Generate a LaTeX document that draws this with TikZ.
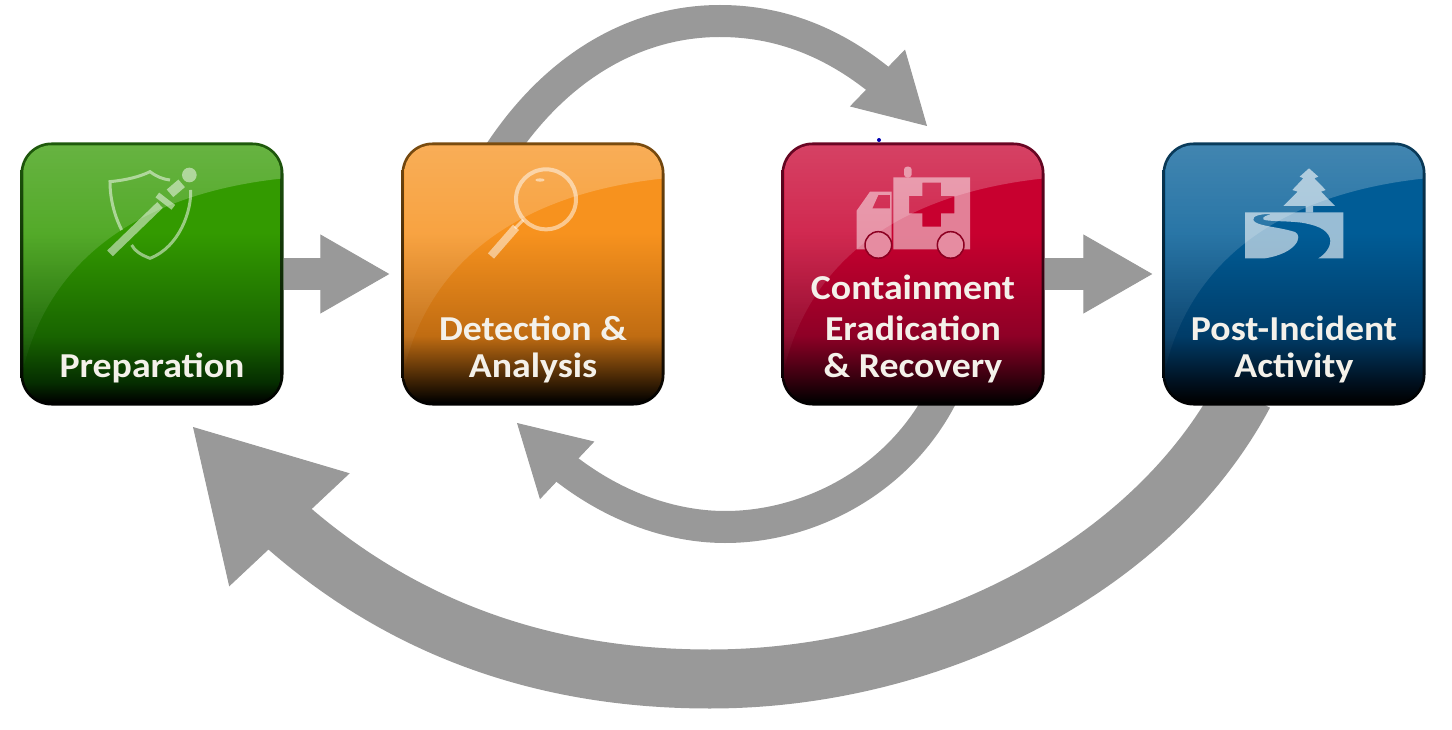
\documentclass[tikz,border=0pt]{standalone}
\usepackage{fontspec}
\setmainfont{Carlito}[FakeStretch=1.08]
\usepackage{xcolor}
\usetikzlibrary{arrows.meta,bending,backgrounds,fadings}
\definecolor{flowgray}{HTML}{999999}
\definecolor{labelwhite}{HTML}{F4F1EA}
\newcommand{\boxshade}[4]{%
  \pgfdeclareverticalshading{#1}{100bp}{color(0bp)=(black); color(25bp)=(black);
    color(29bp)=(#4); color(38bp)=(#3); color(58bp)=(#2); color(100bp)=(#2)}}
\definecolor{greenA}{HTML}{339A00}\definecolor{greenB}{HTML}{186400}\definecolor{greenC}{HTML}{052E00}\definecolor{greenE}{HTML}{1F5A0C}
\definecolor{orangeA}{HTML}{F7921E}\definecolor{orangeB}{HTML}{C06C12}\definecolor{orangeC}{HTML}{3A2004}\definecolor{orangeE}{HTML}{7A4C10}
\definecolor{redA}{HTML}{C8002F}\definecolor{redB}{HTML}{8E0026}\definecolor{redC}{HTML}{2E000C}\definecolor{redE}{HTML}{6A0624}
\definecolor{blueA}{HTML}{005C96}\definecolor{blueB}{HTML}{003C68}\definecolor{blueC}{HTML}{00101F}\definecolor{blueE}{HTML}{0A3C5C}
\boxshade{greenfill}{greenA}{greenB}{greenC}
\boxshade{orangefill}{orangeA}{orangeB}{orangeC}
\boxshade{redfill}{redA}{redB}{redC}
\boxshade{bluefill}{blueA}{blueB}{blueC}
\tikzset{
  stagebox/.style={minimum size=263pt,inner sep=0pt,rounded corners=31pt,bottom color=black},
  stagelabel/.style={text=labelwhite,font=\fontsize{35}{38.5}\selectfont\bfseries,anchor=base},
  flowline/.style={draw=flowgray,line width=32pt,-{Triangle[length=69pt,width=79pt,line width=1pt,flex]}},
  flowbig/.style={draw=flowgray,line width=59pt,-{Triangle[length=141pt,width=165pt,line width=1pt,flex]}},
  iconfill/.style={fill=white,fill opacity=.5},
  iconline/.style={draw=white,draw opacity=.5},
}
\begin{document}
\begin{tikzpicture}[x=1pt,y=-1pt]
\useasboundingbox (0,0) rectangle (1452,730);

% Stage boxes
\node[stagebox,top color=greenE] (prep) at (152,274) {};
\node[stagebox,top color=orangeE] (detect) at (533,274) {};
\node[stagebox,top color=redE] (contain) at (913,274) {};
\node[stagebox,top color=blueE] (postinc) at (1294,274) {};

% Tips of the curved arrows
\coordinate (toptip) at (927,126);
\coordinate (lowtip) at (517,423);
\coordinate (bigtip) at (193,427);

% Arrows, behind the boxes
\begin{scope}[on background layer]
\draw[flowline] (prep.east) -- ([xshift=-12pt]detect.west);
\draw[flowline] (contain.east) -- ([xshift=-10pt]postinc.west);
\draw[flowline] ([xshift=-33pt,yshift=-10pt]detect.north) .. controls (560,62) and (640,21) .. (720,21)
  .. controls (790,21) and (860,50) .. (toptip);
\draw[flowline] ([xshift=30pt,yshift=12pt]contain.south) .. controls (900,480) and (810,527) .. (725,527)
  .. controls (670,527) and (590,505) .. (lowtip);
\draw[flowbig] ([xshift=-50pt,yshift=12pt]postinc.south) .. controls (1150,570) and (930,679) .. (710,679)
  .. controls (530,679) and (345,620) .. (bigtip);
\end{scope}

% Fill and gloss of each box
\foreach \boxname/\fillname in {prep/greenfill,detect/orangefill,contain/redfill,postinc/bluefill} {
  \shade[shading=\fillname,rounded corners=28pt] ([shift={(3pt,-3pt)}]\boxname.north west) rectangle ([shift={(-3pt,3pt)}]\boxname.south east);
  \begin{scope}
  \clip[rounded corners=28pt] ([shift={(3pt,-3pt)}]\boxname.north west) rectangle ([shift={(-3pt,3pt)}]\boxname.south east);
  \begin{scope}[shift={(\boxname.north west)}]
  \fill[white,fill opacity=.26,path fading=south] (0,0) -- (0,240) .. controls (25,110) and (130,50) .. (263,36) -- (263,0) -- cycle;
  \end{scope}
  \end{scope}
}

% Shield and sword
\begin{scope}[scale=1/3,shift={(0,390)}]
\draw[iconline,line width=3pt] (365,300) .. controls (340,250) and (330,200) .. (330,155)
  .. controls (380,150) and (420,140) .. (450,125) .. controls (470,140) and (490,148) .. (510,150);
\draw[iconline,line width=3pt] (572,180) .. controls (575,240) and (540,350) .. (450,385)
  .. controls (425,375) and (405,365) .. (395,345);
\draw[iconline,line width=8pt] (330,370) -- (480,225);
\draw[iconline,line width=6pt] (472,195) -- (520,232);
\draw[iconline,line width=10pt] (510,190) -- (545,160);
\fill[iconfill] (568,135) circle (22);
\end{scope}

% Magnifying glass
\begin{scope}[shift={(390,130)},scale=1/3]
\draw[iconline,line width=4pt] (468,208) circle (90);
\draw[iconline,line width=3pt] (400,270) -- (375,295);
\draw[iconline,line width=8pt] (378,292) -- (303,378);
\fill[iconfill] (450,150) ellipse (14 and 5);
\end{scope}

% Ambulance
\begin{scope}[shift={(845,160)},scale=1/3]
\fill[iconfill,even odd rule] (145,52) rectangle (375,268)
  (232,68) -- (288,68) -- (288,108) -- (328,108) -- (328,160) -- (288,160) -- (288,200)
  -- (232,200) -- (232,160) -- (192,160) -- (192,108) -- (232,108) -- cycle;
\fill[iconfill,even odd rule] (35,152) -- (75,95) -- (140,95) -- (140,268) -- (35,268) -- cycle
  (82,145) -- (100,105) -- (135,105) -- (135,145) -- cycle;
\fill[iconfill,rounded corners=3pt] (177,20) rectangle (200,52);
\foreach \wheelx in {100,317} {
  \fill[redA!45!white] (\wheelx,255) circle (38);
  \draw[redA!70!black,line width=1.5pt] (\wheelx,255) circle (40);
}
\end{scope}

% Tree and river
\begin{scope}[shift={(1235,160)},scale=1/3]
\fill[white,fill opacity=.6] (222,25) -- (250,50) -- (238,55) -- (272,90) -- (258,95) -- (300,138)
  -- (234,138) -- (234,157) -- (212,157) -- (212,138) -- (145,138) -- (188,95) -- (172,90)
  -- (205,55) -- (194,50) -- cycle;
\fill[white,fill opacity=.6] (30,295) -- (30,157) -- (325,157) -- (325,295) -- (250,295)
  .. controls (275,280) and (290,255) .. (285,235) .. controls (275,205) and (240,195) .. (200,188)
  .. controls (150,182) and (95,185) .. (85,178) .. controls (80,172) and (95,165) .. (110,163)
  .. controls (80,160) and (50,168) .. (55,180) .. controls (60,198) and (130,200) .. (180,216)
  .. controls (205,228) and (185,280) .. (90,295) -- cycle;
\end{scope}

% Stray dot
\fill[blue!70!black] (879,140) circle (2);

% Labels
\node[stagelabel] (preptext) at (152,377) {Preparation};
\node[stagelabel] (detecttext1) at (533,340) {Detection \&};
\node[stagelabel] (detecttext2) at (533,377) {Analysis};
\node[stagelabel] (containtext1) at (913,300) {Containment};
\node[stagelabel] (containtext2) at (913,340) {Eradication};
\node[stagelabel] (containtext3) at (913,377) {\& Recovery};
\node[stagelabel] (posttext1) at (1294,340) {Post-Incident};
\node[stagelabel] (posttext2) at (1294,377) {Activity};
\end{tikzpicture}
\end{document}
